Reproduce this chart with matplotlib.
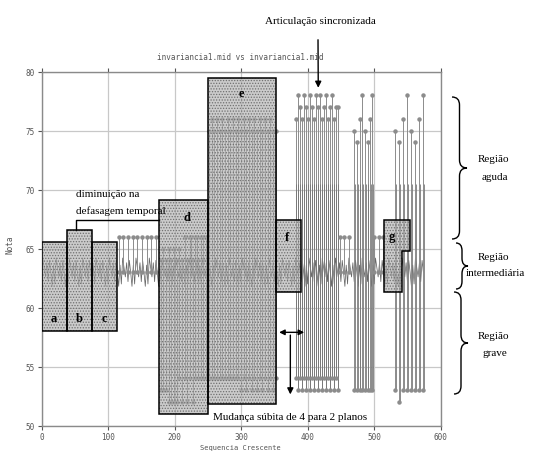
import numpy as np
import matplotlib.pyplot as plt
from matplotlib.patches import Rectangle, Polygon, PathPatch
from matplotlib.path import Path

W, H = 535, 452

# faixa central (linhas quase contínuas em torno da nota 63)
band_x = np.arange(0, 576, 2)
band_motif = [62.0, 64.2, 63.4, 62.6, 63.8, 62.2, 64.0, 63.0, 61.8, 63.6]
band_y = np.resize(band_motif, band_x.size)

# hastes curtas (notas 66)
mid_x = [116, 123, 130, 137, 144, 151, 158, 165, 172, 216, 224, 234, 243, 448, 455, 462, 500, 507, 514]
mid_low = [63, 63, 63, 63, 63, 63, 63, 63, 63, 63, 63, 63, 63, 63, 63, 63, 63, 63, 63]
mid_high = [66, 66, 66, 66, 66, 66, 66, 66, 66, 66, 66, 66, 66, 66, 66, 66, 66, 66, 66]

# região d
d_x = [179, 183, 187, 191, 195, 199, 203, 207, 211, 215, 219, 223, 227, 231, 235, 239, 243, 247]
d_low = [53, 53, 53, 52, 52, 52, 52, 54, 52, 54, 52, 54, 52, 54, 54, 54, 54, 54]
d_high = [64, 65, 64, 65, 64, 65, 64, 65, 64, 66, 64, 66, 64, 66, 64, 66, 64, 66]

# região e
e_x = [252, 256, 260, 264, 268, 272, 276, 280, 284, 288, 292, 296, 300,
       304, 308, 312, 316, 320, 324, 328, 332, 336, 340, 344, 348, 352]
e_low = [54, 54, 54, 54, 54, 54, 54, 54, 54, 54, 54, 54, 53,
         54, 53, 54, 53, 54, 53, 54, 53, 54, 53, 54, 53, 54]
e_high = [75, 76, 75, 76, 75, 76, 75, 76, 75, 76, 75, 76, 75,
          76, 75, 76, 75, 76, 75, 76, 75, 76, 75, 76, 75, 75]

# articulação sincronizada - grupo 1
g1_x = [382, 385, 388, 391, 394, 397, 400, 403, 406, 409, 412,
        415, 418, 421, 424, 427, 430, 433, 436, 439, 442, 445]
g1_low = [54, 53, 54, 53, 54, 53, 54, 53, 54, 53, 54,
          53, 54, 53, 54, 53, 54, 53, 54, 53, 54, 53]
g1_high = [76, 78, 77, 76, 78, 77, 76, 78, 77, 76, 78,
           77, 78, 76, 77, 78, 76, 77, 78, 76, 77, 77]

# grupos 2 e 3
g2_x = [470, 474, 478, 482, 486, 490, 494, 497]
g2_low = [53, 53, 53, 53, 53, 53, 53, 53]
g2_high = [75, 74, 76, 78, 75, 74, 76, 78]

g3_x = [531, 537, 543, 549, 555, 561, 567, 574]
g3_low = [53, 52, 53, 53, 53, 53, 53, 53]
g3_high = [75, 74, 76, 78, 75, 74, 76, 78]

# caixas (x0, x1, y0, y1, rótulo)
boxes = [(0, 39, 58, 65.6, 'a'), (39, 76, 58, 66.6, 'b'), (76, 114, 58, 65.6, 'c'),
         (176, 251, 51, 69.1, 'd'), (251, 353, 51.8, 79.5, 'e'), (353, 390, 61.3, 67.4, 'f')]
box_label_pos = {'a': (18, 59.1), 'b': (57, 59.1), 'c': (95, 59.1), 'd': (219, 67.7),
                 'e': (300, 78.2), 'f': (369, 66.0)}
g_poly = [(515, 61.3), (515, 67.4), (554, 67.4), (554, 64.8), (542, 64.8), (542, 61.3)]

x_ticks = [0, 100, 200, 300, 400, 500, 600]
y_ticks = [50, 55, 60, 65, 70, 75, 80]

plt.rcParams['hatch.linewidth'] = 0.6

fig = plt.figure(figsize=(W / 100, H / 100), dpi=100)
ax = fig.add_axes([41.5 / W, 1 - 426.5 / H, 399.2 / W, 353.8 / H])
ax.set_xlim(0, 600)
ax.set_ylim(50, 80)
ax.set_xticks(x_ticks)
ax.set_yticks(y_ticks)
ax.grid(True, color='#c8c8c8', lw=0.9)
ax.set_axisbelow(True)
for s in ax.spines.values():
    s.set_color('#8a8a8a')
    s.set_linewidth(1.0)
ax.tick_params(labelsize=5.5, colors='#555555', length=3, pad=2, top=True, direction='out')
for lab in ax.get_xticklabels() + ax.get_yticklabels():
    lab.set_family('DejaVu Sans Mono')

stem_c = '#8c8c8c'
ax.plot(band_x, band_y, color='#686868', lw=0.55, zorder=2)
for xs, lo, hi in [(mid_x, mid_low, mid_high), (d_x, d_low, d_high), (e_x, e_low, e_high),
                   (g1_x, g1_low, g1_high), (g2_x, g2_low, g2_high), (g3_x, g3_low, g3_high)]:
    ax.vlines(xs, lo, hi, color=stem_c, lw=0.7, zorder=2)
    ax.plot(xs, hi, 'o', ms=2.2, color='#8c8c8c', zorder=3)
    ax.plot(xs, lo, 'o', ms=2.2, color='#8c8c8c', zorder=3)
# segundas vozes (trechos escuros até ~70)
for xs, lo in [(g1_x, g1_low), (g2_x, g2_low), (g3_x, g3_low)]:
    ax.vlines([v + 1.2 for v in xs], lo, 70.5, color='#777777', lw=0.6, zorder=2)

box_face = (0.7, 0.7, 0.7, 0.68)
for x0, x1, y0, y1, lab in boxes:
    ax.add_patch(Rectangle((x0, y0), x1 - x0, y1 - y0, facecolor=box_face,
                           edgecolor='#707070', hatch='......', lw=0, zorder=4))
    ax.add_patch(Rectangle((x0, y0), x1 - x0, y1 - y0, fill=False, edgecolor='black',
                           lw=1.1, zorder=5))
    bx, by = box_label_pos[lab]
    ax.text(bx, by, lab, family='Liberation Serif', weight='bold', fontsize=9,
            ha='center', va='center', zorder=6)
ax.add_patch(Polygon(g_poly, closed=True, facecolor=box_face,
                     edgecolor='#707070', hatch='......', lw=0, zorder=4))
ax.add_patch(Polygon(g_poly, closed=True, fill=False, edgecolor='black', lw=1.1, zorder=5))
ax.text(527, 66.1, 'g', family='Liberation Serif', weight='bold', fontsize=9,
        ha='center', va='center', zorder=6)

# chave "diminuição na defasagem temporal"
ax.plot([52, 52, 177], [66.6, 67.4, 67.4], color='black', lw=1.0, zorder=6)
fig.text(76 / W, 1 - 195 / H, 'diminuição na', family='Liberation Serif', fontsize=8,
         ha='left', va='center')
fig.text(76 / W, 1 - 211 / H, 'defasagem temporal', family='Liberation Serif', fontsize=8,
         ha='left', va='center')

# articulação sincronizada
fig.text(320 / W, 1 - 22 / H, 'Articulação sincronizada', family='Liberation Serif',
         fontsize=8, ha='center', va='center')
ax.annotate('', xy=(416, 78.4), xytext=(318 / W, 1 - 38 / H), textcoords='figure fraction',
            arrowprops=dict(arrowstyle='-|>', color='black', lw=1.0, mutation_scale=9),
            zorder=7, annotation_clip=False)

# mudança súbita
ax.annotate('', xy=(353, 57.9), xytext=(399, 57.9),
            arrowprops=dict(arrowstyle='<|-|>', color='black', lw=1.0, mutation_scale=8), zorder=7)
ax.annotate('', xy=(374, 52.4), xytext=(374, 57.9),
            arrowprops=dict(arrowstyle='-|>', color='black', lw=1.0, mutation_scale=9), zorder=7)
fig.text(213 / W, 1 - 418 / H, 'Mudança súbita de 4 para 2 planos', family='Liberation Serif',
         fontsize=8, ha='left', va='center')

# título e eixos
fig.text(240.5 / W, 1 - 58 / H, 'invariancia1.mid vs invariancia1.mid', family='DejaVu Sans Mono',
         fontsize=5.5, color='#555555', ha='center', va='center')
fig.text(10 / W, 1 - 245 / H, 'Nota', family='DejaVu Sans Mono', fontsize=5.5, color='#555555',
         rotation=90, ha='center', va='center')
fig.text(240.5 / W, 1 - 448 / H, 'Sequencia Crescente', family='DejaVu Sans Mono', fontsize=5,
         color='#555555', ha='center', va='center')


def brace(x0, y0, y1, w):
    # chave "}" em pixels da figura
    x1, x2, ym = x0 + w / 2, x0 + w, (y0 + y1) / 2
    r = min(8, (y1 - y0) / 6)
    pts = [(x0, y0), (x1, y0), (x1, y0 + r), (x1, ym - r), (x1, ym), (x2, ym),
           (x1, ym), (x1, ym + r), (x1, y1 - r), (x1, y1), (x0, y1)]
    codes = [Path.MOVETO, Path.CURVE3, Path.CURVE3, Path.LINETO, Path.CURVE3, Path.CURVE3,
             Path.CURVE3, Path.CURVE3, Path.LINETO, Path.CURVE3, Path.CURVE3]
    pts = [(px / W, 1 - py / H) for px, py in pts]
    fig.add_artist(PathPatch(Path(pts, codes), fill=False, lw=1.0, edgecolor='black',
                             transform=fig.transFigure))


brace(452, 98, 240, 15)
brace(456, 244, 290, 12)
brace(454, 293, 395, 14)

regions = [('Região', 'aguda', 160, 177), ('Região', 'intermediária', 258, 274),
           ('Região', 'grave', 337, 354)]
for t1, t2, y1, y2 in regions:
    fig.text(493 / W, 1 - y1 / H, t1, family='Liberation Serif', fontsize=8, ha='center', va='center')
    fig.text(495 / W, 1 - y2 / H, t2, family='Liberation Serif', fontsize=8, ha='center', va='center')

fig.savefig('out.png', dpi=100)
